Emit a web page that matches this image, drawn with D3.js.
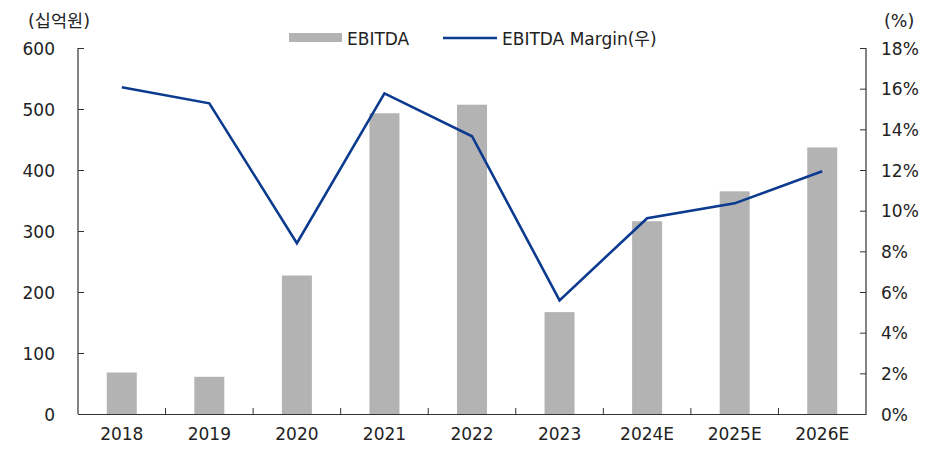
<!DOCTYPE html>
<html>
<head>
<meta charset="utf-8">
<script src="https://cdn.jsdelivr.net/npm/d3@7"></script>
<style>
  body { margin: 0; background: #fff; }
  svg text { font-family: "DejaVu Sans", "Noto Sans CJK KR", sans-serif; fill: #222; }
</style>
</head>
<body>
<svg></svg>
<script>
// ---- DATA ----
const years = ["2018", "2019", "2020", "2021", "2022", "2023", "2024E", "2025E", "2026E"];
const ebitda = [68, 61, 227, 493, 507, 167, 316, 365, 437];
const margin = [16.07, 15.28, 8.4, 15.77, 13.66, 5.59, 9.63, 10.36, 11.94];
const leftTicks = [0, 100, 200, 300, 400, 500, 600];
const rightTicks = [0, 2, 4, 6, 8, 10, 12, 14, 16, 18];

const svg = d3.select("svg").attr("width", 944).attr("height", 452);

const m = { top: 48, right: 78, bottom: 38, left: 78 };
const width = 944 - m.left - m.right;
const height = 452 - m.top - m.bottom;

const g = svg.append("g").attr("transform", `translate(${m.left},${m.top})`);

// ---- SCALES ----
const x = d3.scaleBand().domain(years).range([0, width]).paddingInner(0).paddingOuter(0);
const y = d3.scaleLinear().domain([0, 600]).range([height, 0]);
const y2 = d3.scaleLinear().domain([0, 18]).range([height, 0]);

// ---- BARS ----
const barW = 30;
g.selectAll("rect.bar")
  .data(years)
  .join("rect")
  .attr("class", "bar")
  .attr("x", (d) => x(d) + x.bandwidth() / 2 - barW / 2)
  .attr("y", (d, i) => y(ebitda[i]))
  .attr("width", barW)
  .attr("height", (d, i) => height - y(ebitda[i]))
  .attr("fill", "#b3b3b3");

// ---- LINE ----
const line = d3.line()
  .x((d, i) => x(years[i]) + x.bandwidth() / 2)
  .y((d) => y2(d));

g.append("path")
  .datum(margin)
  .attr("fill", "none")
  .attr("stroke", "#0b3a8f")
  .attr("stroke-width", 2.6)
  .attr("d", line);

// ---- AXES ----
const axisColor = "#333";

const leftAxis = g.append("g")
  .call(d3.axisLeft(y).tickValues(leftTicks).tickSize(-6).tickPadding(23));
leftAxis.selectAll("text").attr("font-size", 17).attr("dy", "0.36em");

const rightAxis = g.append("g")
  .attr("transform", `translate(${width},0)`)
  .call(d3.axisRight(y2).tickValues(rightTicks).tickSize(-6).tickPadding(15).tickFormat((d) => d + "%"));
rightAxis.selectAll("text").attr("font-size", 17).attr("dy", "0.36em");

const bottomAxis = g.append("g")
  .attr("transform", `translate(0,${height})`)
  .call(d3.axisBottom(x).tickSize(0).tickPadding(14));
bottomAxis.selectAll("text").attr("font-size", 17).attr("dy", "0.72em");

// category separators pointing up
g.append("g")
  .selectAll("line")
  .data(years.slice(1))
  .join("line")
  .attr("x1", (d) => x(d))
  .attr("x2", (d) => x(d))
  .attr("y1", height)
  .attr("y2", height - 6)
  .attr("stroke", axisColor);

[leftAxis, rightAxis, bottomAxis].forEach((a) => {
  a.select(".domain").attr("stroke", axisColor).attr("stroke-width", 1.2);
  a.selectAll(".tick line").attr("stroke", axisColor);
});
leftAxis.select(".domain").attr("d", `M0,0V${height}`);
rightAxis.select(".domain").attr("d", `M0,0V${height}`);

// ---- UNIT LABELS ----
svg.append("text").attr("x", 28).attr("y", 27).attr("font-size", 17.5).text("(십억원)");
svg.append("text").attr("x", 884).attr("y", 27).attr("font-size", 17.5).text("(%)");

// ---- LEGEND ----
const lg = svg.append("g");
lg.append("rect").attr("x", 289).attr("y", 33).attr("width", 53).attr("height", 9).attr("fill", "#b3b3b3");
lg.append("text").attr("x", 347).attr("y", 45).attr("font-size", 17).text("EBITDA");
lg.append("line").attr("x1", 443).attr("x2", 497).attr("y1", 38).attr("y2", 38)
  .attr("stroke", "#0b3a8f").attr("stroke-width", 2.6);
lg.append("text").attr("x", 502).attr("y", 45).attr("font-size", 17).text("EBITDA Margin(우)");
</script>
</body>
</html>
